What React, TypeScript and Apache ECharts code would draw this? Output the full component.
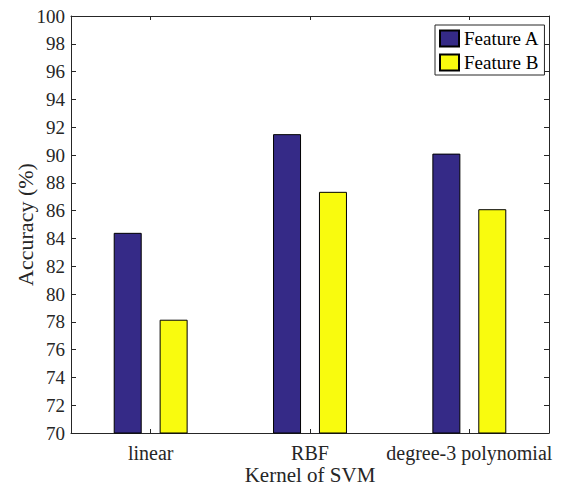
import React, { useEffect, useRef } from "react";
import * as echarts from "echarts";

const categories = ["linear", "RBF", "degree-3 polynomial"];
const featureA = [84.4, 91.5, 90.1];
const featureB = [78.15, 87.35, 86.1];
const yTicks = { min: 70, max: 100, interval: 2 };

const FONT = "Liberation Serif";
const TXT = "#262626";

export default function App() {
  const ref = useRef<HTMLDivElement>(null);
  useEffect(() => {
    if (!ref.current) return;
    const chart = echarts.init(ref.current, undefined, { renderer: "svg" });
    const axisLine = { show: true, lineStyle: { color: TXT, width: 1 } };
    chart.setOption({
      animation: false,
      backgroundColor: "#fff",
      textStyle: { fontFamily: FONT, color: TXT },
      grid: { left: 71, right: 14, top: 16, bottom: 53, containLabel: false, outerBoundsMode: "none" },
      legend: {
        orient: "vertical",
        left: 435,
        top: 25,
        padding: [4, 5, 3, 4],
        itemWidth: 19,
        itemHeight: 16,
        itemGap: 5,
        backgroundColor: "#fff",
        borderColor: TXT,
        borderWidth: 1,
        borderRadius: 0,
        textStyle: { fontFamily: FONT, fontSize: 19, color: "#000", lineHeight: 16 },
        icon: "rect",
        data: ["Feature A", "Feature B"],
      },
      xAxis: [
        {
          type: "category",
          data: categories,
          position: "bottom",
          axisLine,
          axisTick: { show: true, inside: true, alignWithLabel: true, length: 4, lineStyle: { color: TXT } },
          axisLabel: { fontFamily: FONT, fontSize: 20, color: TXT, margin: 10, interval: 0 },
          name: "Kernel of SVM",
          nameLocation: "middle",
          nameMoveOverlap: false,
          nameGap: 31,
          nameTextStyle: { fontFamily: FONT, fontSize: 21, color: TXT, lineHeight: 21 },
        },
        {
          type: "category",
          data: categories,
          position: "top",
          axisLine,
          axisTick: { show: true, inside: true, alignWithLabel: true, length: 4, lineStyle: { color: TXT } },
          axisLabel: { show: false },
        },
      ],
      yAxis: [
        {
          type: "value",
          min: yTicks.min,
          max: yTicks.max,
          interval: yTicks.interval,
          position: "left",
          axisLine,
          axisTick: { show: true, inside: true, length: 5, lineStyle: { color: TXT } },
          splitLine: { show: false },
          axisLabel: { fontFamily: FONT, fontSize: 19, color: TXT, margin: 6 },
          name: "Accuracy (%)",
          nameLocation: "middle",
          nameMoveOverlap: false,
          nameGap: 35,
          nameTextStyle: { fontFamily: FONT, fontSize: 22, color: TXT },
        },
        {
          type: "value",
          min: yTicks.min,
          max: yTicks.max,
          interval: yTicks.interval,
          position: "right",
          axisLine,
          axisTick: { show: true, inside: true, length: 5, lineStyle: { color: TXT } },
          splitLine: { show: false },
          axisLabel: { show: false },
        },
      ],
      series: [
        {
          name: "Feature A",
          type: "bar",
          data: featureA,
          barWidth: 28,
          barGap: "64%",
          itemStyle: { color: "#352A87", borderColor: "#000", borderWidth: 1 },
        },
        {
          name: "Feature B",
          type: "bar",
          data: featureB,
          barWidth: 28,
          barGap: "64%",
          itemStyle: { color: "#F9FB0E", borderColor: "#000", borderWidth: 1 },
        },
      ],
    });
    return () => chart.dispose();
  }, []);
  return <div ref={ref} style={{ width: 563, height: 486, position: "absolute", left: 0, top: 0 }} />;
}
